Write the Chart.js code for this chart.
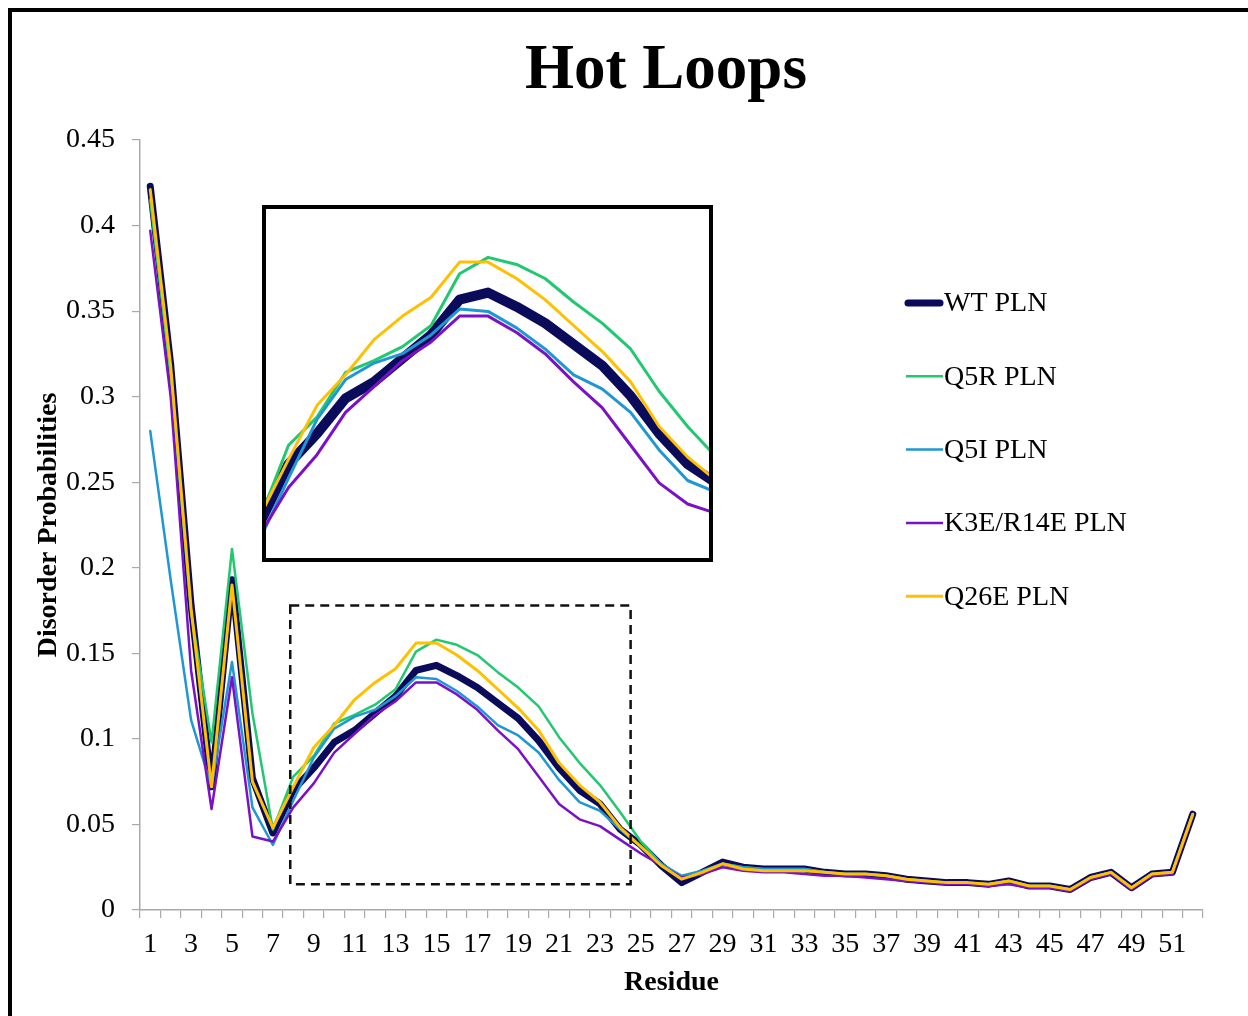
<!DOCTYPE html>
<html>
<head>
<meta charset="utf-8">
<title>Hot Loops</title>
<script src="https://cdn.jsdelivr.net/npm/chart.js@4.4.1/dist/chart.umd.min.js"></script>
<style>
  body { margin: 0; background: #fff; overflow: hidden; }
  #frame { position: absolute; left: 8px; top: 8px; width: 1300px; height: 1100px;
           border-left: 4px solid #000; border-top: 4px solid #000; }
  #main { position: absolute; left: 0; top: 0; }
  #insetBox { position: absolute; left: 262px; top: 205px; width: 443px; height: 349px;
              border: 4px solid #000; background: #fff; }
  #inset { display: block; }
</style>
</head>
<body>
<div id="frame"></div>
<canvas id="main" width="1248" height="1016"></canvas>
<div id="insetBox"><canvas id="inset" width="443" height="349"></canvas></div>
<script>
"use strict";

// residues along the x axis
const residues = [1, 2, 3, 4, 5, 6, 7, 8, 9, 10, 11, 12, 13, 14, 15, 16, 17, 18, 19, 20,
  21, 22, 23, 24, 25, 26, 27, 28, 29, 30, 31, 32, 33, 34, 35, 36, 37, 38, 39, 40,
  41, 42, 43, 44, 45, 46, 47, 48, 49, 50, 51, 52];

const xTickLabels = [1, 3, 5, 7, 9, 11, 13, 15, 17, 19, 21, 23, 25, 27, 29, 31, 33, 35,
  37, 39, 41, 43, 45, 47, 49, 51];
const yTicks = [0, 0.05, 0.1, 0.15, 0.2, 0.25, 0.3, 0.35, 0.4, 0.45];

const seriesNames = ["WT PLN", "Q5R PLN", "Q5I PLN", "K3E/R14E PLN", "Q26E PLN"];

const wtPLN = [0.423, 0.319, 0.178, 0.072, 0.193, 0.077, 0.045, 0.070, 0.083, 0.098,
  0.105, 0.115, 0.125, 0.140, 0.143, 0.137, 0.130, 0.121, 0.112, 0.099,
  0.083, 0.070, 0.062, 0.047, 0.038, 0.026, 0.016, 0.022, 0.028, 0.025,
  0.024, 0.024, 0.024, 0.022, 0.021, 0.021, 0.020, 0.018, 0.017, 0.016,
  0.016, 0.015, 0.017, 0.014, 0.014, 0.012, 0.019, 0.022, 0.013, 0.021,
  0.022, 0.056];

const q5rPLN = [0.415, 0.312, 0.174, 0.098, 0.211, 0.115, 0.047, 0.078, 0.090, 0.109,
  0.114, 0.120, 0.129, 0.151, 0.158, 0.155, 0.149, 0.139, 0.130, 0.119,
  0.101, 0.086, 0.073, 0.057, 0.040, 0.027, 0.019, 0.021, 0.027, 0.025,
  0.024, 0.024, 0.024, 0.022, 0.021, 0.021, 0.020, 0.018, 0.017, 0.016,
  0.016, 0.015, 0.017, 0.014, 0.014, 0.012, 0.019, 0.022, 0.013, 0.021,
  0.022, 0.056];

const q5iPLN = [0.280, 0.193, 0.111, 0.072, 0.145, 0.060, 0.038, 0.064, 0.089, 0.106,
  0.113, 0.117, 0.125, 0.136, 0.135, 0.128, 0.119, 0.108, 0.102, 0.092,
  0.076, 0.063, 0.058, 0.047, 0.037, 0.027, 0.020, 0.023, 0.027, 0.025,
  0.024, 0.024, 0.024, 0.022, 0.021, 0.021, 0.020, 0.018, 0.017, 0.016,
  0.016, 0.015, 0.017, 0.014, 0.014, 0.012, 0.019, 0.022, 0.013, 0.021,
  0.022, 0.056];

const k3eR14ePLN = [0.397, 0.300, 0.140, 0.059, 0.136, 0.043, 0.040, 0.060, 0.074, 0.092,
  0.103, 0.114, 0.122, 0.133, 0.133, 0.126, 0.117, 0.105, 0.094, 0.078,
  0.062, 0.053, 0.049, 0.041, 0.033, 0.026, 0.019, 0.021, 0.025, 0.023,
  0.022, 0.022, 0.021, 0.020, 0.020, 0.019, 0.018, 0.017, 0.016, 0.015,
  0.015, 0.014, 0.015, 0.013, 0.013, 0.011, 0.018, 0.021, 0.012, 0.020,
  0.021, 0.055];

const q26ePLN = [0.421, 0.318, 0.176, 0.072, 0.190, 0.075, 0.048, 0.072, 0.095, 0.108,
  0.123, 0.133, 0.141, 0.156, 0.156, 0.149, 0.140, 0.129, 0.118, 0.105,
  0.086, 0.073, 0.063, 0.048, 0.037, 0.026, 0.018, 0.022, 0.027, 0.024,
  0.023, 0.023, 0.023, 0.022, 0.021, 0.021, 0.020, 0.018, 0.017, 0.016,
  0.016, 0.015, 0.017, 0.014, 0.014, 0.012, 0.019, 0.022, 0.013, 0.021,
  0.022, 0.056];

// region that the inset blows up (residue range, probability range)
const zoomResidues = [7.85, 24.5];
const zoomProbs = [0.015, 0.178];
// what the inset shows
const insetResidues = [7.21, 22.75];
const insetProbs = [0.03, 0.1786];

const allValues = [wtPLN, q5rPLN, q5iPLN, k3eR14ePLN, q26ePLN];
const colors = ["#0b0b5b", "#20c870", "#1f97d4", "#7a10c8", "#ffc000"];
const mainWidths = [7, 2.5, 2.5, 2.5, 3];
const insetWidths = [10, 3, 3, 3, 3];

const serif = "'Liberation Serif', 'Times New Roman', serif";
const axisGray = "#a9a9a9";

function makeDatasets(widths, asPoints) {
  let sets = [];
  for (let i = 0; i < seriesNames.length; i++) {
    let data = allValues[i];
    if (asPoints) {
      data = residues.map((r, j) => ({ x: r, y: allValues[i][j] }));
    }
    sets.push({
      label: seriesNames[i],
      data: data,
      borderColor: colors[i],
      backgroundColor: colors[i],
      borderWidth: widths[i],
      borderCapStyle: "round",
      borderJoinStyle: "round",
      pointRadius: 0,
      tension: 0,
      fill: false,
      order: seriesNames.length - i, // WT underneath, Q26E on top
    });
  }
  return sets;
}

// title, legend and the dashed zoom box
const decorations = {
  id: "decorations",
  afterDatasetsDraw(chart) {
    const ctx = chart.ctx;
    const x = chart.scales.x;
    const y = chart.scales.y;
    const x0 = x.getPixelForValue(zoomResidues[0] - 1);
    const x1 = x.getPixelForValue(zoomResidues[1] - 1);
    const y0 = y.getPixelForValue(zoomProbs[0]);
    const y1 = y.getPixelForValue(zoomProbs[1]);
    ctx.save();
    ctx.strokeStyle = "#111";
    ctx.lineWidth = 2.5;
    ctx.setLineDash([9, 6]);
    ctx.strokeRect(x0, y1, x1 - x0, y0 - y1);
    ctx.restore();
  },
  afterDraw(chart) {
    const ctx = chart.ctx;
    ctx.save();
    ctx.fillStyle = "#000";
    ctx.textAlign = "center";
    ctx.textBaseline = "alphabetic";
    ctx.font = "bold 63px " + serif;
    ctx.fillText("Hot Loops", 666, 88);

    ctx.textAlign = "left";
    ctx.textBaseline = "middle";
    ctx.font = "28px " + serif;
    const sets = chart.data.datasets;
    for (let i = 0; i < sets.length; i++) {
      const ly = 303 + i * 73.3;
      ctx.strokeStyle = sets[i].borderColor;
      ctx.lineWidth = sets[i].borderWidth;
      ctx.lineCap = i === 0 ? "round" : "butt";
      ctx.beginPath();
      ctx.moveTo(i === 0 ? 908 : 906, ly);
      ctx.lineTo(i === 0 ? 940 : 943, ly);
      ctx.stroke();
      ctx.fillText(sets[i].label, 944, ly + 1);
    }
    ctx.restore();
  },
};

const mainChart = new Chart(document.getElementById("main"), {
  type: "line",
  data: { labels: residues, datasets: makeDatasets(mainWidths, false) },
  options: {
    responsive: false,
    animation: false,
    layout: { padding: { left: 0, top: 140, right: 45, bottom: 0 } },
    plugins: {
      legend: { display: false },
      title: { display: false },
      tooltip: { enabled: false },
    },
    scales: {
      x: {
        type: "category",
        offset: true,
        grid: { offset: true, drawOnChartArea: false, tickLength: 8, color: axisGray, lineWidth: 1.2 },
        border: { color: axisGray, width: 1.5 },
        ticks: {
          autoSkip: false,
          maxRotation: 0,
          padding: 10,
          color: "#000",
          font: { family: serif, size: 28 },
          callback: (v, i) => (xTickLabels.includes(residues[i]) ? String(residues[i]) : ""),
        },
        title: {
          display: true,
          text: "Residue",
          color: "#000",
          font: { family: serif, size: 28, weight: "bold" },
          padding: { top: 0, bottom: 16 },
        },
        afterFit: (s) => { s.height = 106; },
      },
      y: {
        min: 0,
        max: 0.45,
        afterBuildTicks: (s) => { s.ticks = yTicks.map((v) => ({ value: v })); },
        grid: { drawOnChartArea: false, tickLength: 8, color: axisGray, lineWidth: 1.2 },
        border: { color: axisGray, width: 1.5 },
        ticks: {
          padding: 17,
          color: "#000",
          font: { family: serif, size: 28 },
          callback: (v) => String(+Number(v).toFixed(2)),
        },
        title: {
          display: true,
          text: "Disorder Probabilities",
          color: "#000",
          font: { family: serif, size: 28, weight: "bold" },
          padding: { top: 32, bottom: 0 },
        },
        afterFit: (s) => { s.width = 140; },
      },
    },
  },
  plugins: [decorations],
});

const insetChart = new Chart(document.getElementById("inset"), {
  type: "line",
  data: { datasets: makeDatasets(insetWidths, true) },
  options: {
    responsive: false,
    animation: false,
    layout: { padding: 0 },
    plugins: { legend: { display: false }, tooltip: { enabled: false } },
    scales: {
      x: { type: "linear", min: insetResidues[0], max: insetResidues[1], display: false },
      y: { min: insetProbs[0], max: insetProbs[1], display: false },
    },
  },
});
</script>
</body>
</html>
